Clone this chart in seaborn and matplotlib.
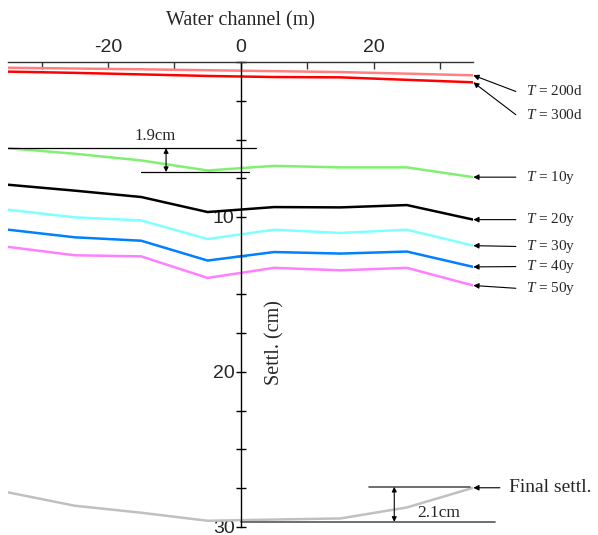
import numpy as np
import pandas as pd
import matplotlib
matplotlib.use("Agg")
import matplotlib.pyplot as plt
import seaborn as sns

# dados
canal_x = [-35, -25, -15, -5, 5, 15, 25, 35]
t200d = [0.37, 0.42, 0.47, 0.53, 0.59, 0.65, 0.75, 0.86]
t300d = [0.62, 0.70, 0.80, 0.90, 0.97, 0.99, 1.15, 1.31]
t10y = [5.56, 5.92, 6.35, 7.00, 6.70, 6.80, 6.80, 7.43]
t20y = [7.92, 8.30, 8.71, 9.68, 9.36, 9.38, 9.23, 10.17]
t30y = [9.53, 10.02, 10.22, 11.42, 10.82, 11.03, 10.82, 11.85]
t40y = [10.82, 11.31, 11.53, 12.81, 12.26, 12.36, 12.23, 13.22]
t50y = [11.93, 12.47, 12.54, 13.93, 13.28, 13.44, 13.28, 14.42]
final = [27.77, 28.63, 29.08, 29.60, 29.52, 29.45, 28.74, 27.47]

series = {"T = 200d": t200d, "T = 300d": t300d, "T = 10y": t10y, "T = 20y": t20y,
          "T = 30y": t30y, "T = 40y": t40y, "T = 50y": t50y, "Final settl.": final}
cores = {"T = 200d": "#ff8080", "T = 300d": "#ff0000", "T = 10y": "#80f070",
         "T = 20y": "#000000", "T = 30y": "#80ffff", "T = 40y": "#0080ff",
         "T = 50y": "#ff80ff", "Final settl.": "#c0c0c0"}

linhas = []
for nome, vals in series.items():
    for x, v in zip(canal_x, vals):
        linhas.append({"x": x, "settl": v, "serie": nome})
df = pd.DataFrame(linhas)

sns.set_style("white")
plt.rcParams["font.family"] = ["Liberation Sans", "DejaVu Sans"]
plt.rcParams["mathtext.fontset"] = "custom"
plt.rcParams["mathtext.it"] = "Liberation Serif:italic"
plt.rcParams["mathtext.rm"] = "Liberation Serif"
serif = ["Liberation Serif", "DejaVu Serif"]

fig = plt.figure(figsize=(5.98, 5.35), dpi=100)
ax = fig.add_axes([0.0139, 0.015, 0.7776, 0.8691])

sns.lineplot(data=df, x="x", y="settl", hue="serie", palette=cores, ax=ax,
             legend=False, linewidth=1.8, sort=False)

ax.set_xlim(-35, 35)
ax.set_ylim(30, 0)

# eixos: x no topo, y no centro
ax.spines["right"].set_visible(False)
ax.spines["bottom"].set_visible(False)
ax.spines["left"].set_position(("data", 0))
ax.spines["left"].set_color("black")
ax.spines["left"].set_linewidth(1.0)
ax.spines["top"].set_color("#333333")
ax.spines["top"].set_linewidth(1.0)

ax.xaxis.tick_top()
ax.set_xticks([-30, -20, -10, 0, 10, 20, 30])
ax.set_xticklabels(["", "-20", "", "0", "", "20", ""], fontsize=14)
ax.tick_params(axis="x", direction="in", length=5, width=1, pad=4,
               color="#333333")

yt = np.arange(0, 30.1, 2.5)
ax.set_yticks(yt)
ax.set_yticklabels(["10" if v == 10 else "20" if v == 20 else "30" if v == 30 else "" for v in yt],
                   fontsize=14)
ax.tick_params(axis="y", left=True, direction="inout", length=7, width=1, pad=1,
               color="black")

ax.set_xlabel("Water channel (m)", fontsize=14.5, family=serif, labelpad=10)
ax.xaxis.set_label_position("top")
ax.set_ylabel("Settl. (cm)", fontsize=14.5, family=serif)
ax.yaxis.set_label_coords(0.594, 0.396)

# rótulos à direita com setas
rotulos = [("$T$ = 200d", 35, 0.86, 42.9, 1.9),
           ("$T$ = 300d", 35, 1.31, 42.9, 3.4),
           ("$T$ = 10y", 35, 7.43, 42.9, 7.43),
           ("$T$ = 20y", 35, 10.17, 42.9, 10.17),
           ("$T$ = 30y", 35, 11.85, 42.9, 11.9),
           ("$T$ = 40y", 35, 13.22, 42.9, 13.2),
           ("$T$ = 50y", 35, 14.42, 42.9, 14.6)]
for txt, xa, ya, xt, yt_ in rotulos:
    ax.annotate("", xy=(xa, ya), xytext=(xt - 1.5, yt_), annotation_clip=False,
                arrowprops=dict(arrowstyle="-|>", color="black", lw=0.8,
                                mutation_scale=8, shrinkA=0, shrinkB=0))
    ax.text(xt, yt_, txt, fontsize=11, va="center", ha="left", family=serif,
            clip_on=False)

ax.annotate("", xy=(35, 27.47), xytext=(39.0, 27.47), annotation_clip=False,
            arrowprops=dict(arrowstyle="-|>", color="black", lw=0.8,
                            mutation_scale=8, shrinkA=0, shrinkB=0))
ax.text(40.3, 27.45, "Final settl.", fontsize=14, va="center", ha="left",
        family=serif, clip_on=False)

# cota 1.9cm
ax.plot([-35, 2.25], [5.56, 5.56], color="black", lw=0.9, clip_on=False)
ax.plot([-15, 1.25], [7.1, 7.1], color="black", lw=0.9, clip_on=False)
ax.annotate("", xy=(-11.25, 5.56), xytext=(-11.25, 7.1),
            arrowprops=dict(arrowstyle="<|-|>", color="black", lw=0.8,
                            mutation_scale=7, shrinkA=0, shrinkB=0))
ax.text(-12.9, 5.3, "1.9cm", fontsize=12, ha="center", va="bottom", family=serif)

# cota 2.1cm
ax.plot([19.25, 34.5], [27.41, 27.41], color="#555555", lw=1.2, clip_on=False)
ax.plot([0, 38.2], [29.67, 29.67], color="#555555", lw=1.2, clip_on=False)
ax.annotate("", xy=(23.1, 27.41), xytext=(23.1, 29.67), annotation_clip=False,
            arrowprops=dict(arrowstyle="<|-|>", color="black", lw=0.8,
                            mutation_scale=7, shrinkA=0, shrinkB=0))
ax.text(29.8, 29.6, "2.1cm", fontsize=12.5, ha="center", va="bottom", family=serif)

fig.savefig("out.png", dpi=100)
